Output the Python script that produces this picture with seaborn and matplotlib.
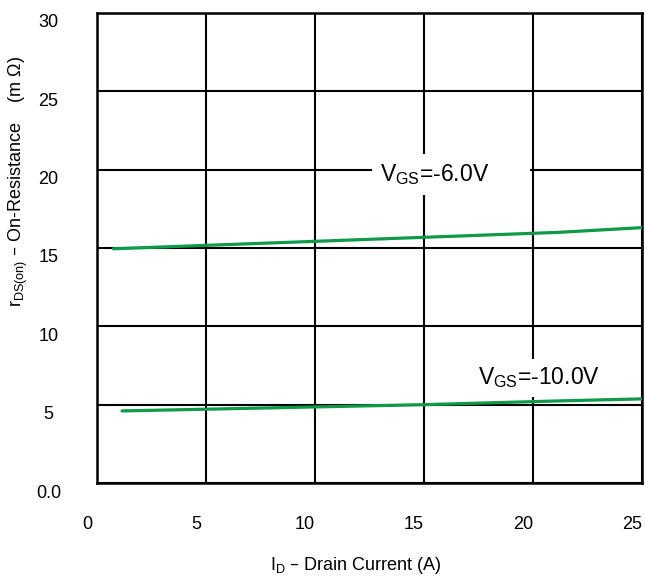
import numpy as np
import pandas as pd
import seaborn as sns
import matplotlib.pyplot as plt
from matplotlib.transforms import ScaledTranslation

# values
id_6v = [0.75, 21.2, 25.0]
r_6v = [14.95, 16.0, 16.3]
id_10v = [1.15, 15.0, 21.2, 25.0]
r_10v = [4.6, 5.0, 5.24, 5.37]

xticks = [0, 5, 10, 15, 20, 25]
yticks = [0, 5, 10, 15, 20, 25, 30]
ylabels = ["0.0", "5", "10", "15", "20", "25", "30"]

sns.set_style("white")
plt.rcParams['font.family'] = ['Liberation Sans', 'DejaVu Sans']
plt.rcParams['mathtext.default'] = 'regular'
plt.rcParams['text.color'] = 'black'

df = pd.concat([
    pd.DataFrame({"ID": id_6v, "R": r_6v, "curve": "-6.0V"}),
    pd.DataFrame({"ID": id_10v, "R": r_10v, "curve": "-10.0V"}),
])

fig = plt.figure(figsize=(6.45, 5.77), dpi=100)
ax = fig.add_axes([0.1504, 0.1629, 0.9953 - 0.1504, 0.9775 - 0.1629])

sns.lineplot(data=df, x="ID", y="R", units="curve", estimator=None,
             color="#0f9a48", lw=2.3, ax=ax, zorder=4, legend=False)

ax.set_xlim(0, 25)
ax.set_ylim(0, 30)
ax.set_xticks(xticks)
ax.set_xticklabels([str(v) for v in xticks])
ax.set_yticks(yticks)
ax.set_yticklabels(ylabels)
ax.grid(True, color="black", lw=1.5)
ax.set_axisbelow(True)
for s in ax.spines.values():
    s.set_color("black")
    s.set_linewidth(1.8)
ax.tick_params(length=0, labelsize=13, colors="black")
ax.tick_params(axis='x', pad=24)
ax.tick_params(axis='y', pad=35)
for lab in ax.get_xticklabels():
    lab.set_transform(lab.get_transform() + ScaledTranslation(-10 / 100, 0, fig.dpi_scale_trans))
for lab in ax.get_yticklabels():
    lab.set_horizontalalignment('center')
    lab.set_transform(lab.get_transform() + ScaledTranslation(0, -8 / 100, fig.dpi_scale_trans))

ax.set_xlabel(r"I$_{D}$ – Drain Current (A)", fontsize=13, color="black")
ax.xaxis.set_label_coords((356 - 97) / 545, -(565 - 483) / 470)
ax.xaxis.label.set_verticalalignment('center')
ax.set_ylabel(r"r$_{DS(on)}$ – On-Resistance    (m Ω)", fontsize=13, color="black")
ax.yaxis.set_label_coords(-(97 - 18) / 545, (483 - 182) / 470)
ax.yaxis.label.set_verticalalignment('center')

# labels sit above the grid but under the curves
ax.text(13.0, 19.7, r"V$_{GS}$=-6.0V      ", fontsize=16.5, va="center", ha="left", zorder=3,
        bbox=dict(facecolor="white", edgecolor="none", pad=6))
ax.text(17.5, 6.7, r"V$_{GS}$=-10.0V", fontsize=16.5, va="center", ha="left", zorder=3,
        bbox=dict(facecolor="white", edgecolor="none", pad=5))

fig.savefig("out.png", dpi=100)
